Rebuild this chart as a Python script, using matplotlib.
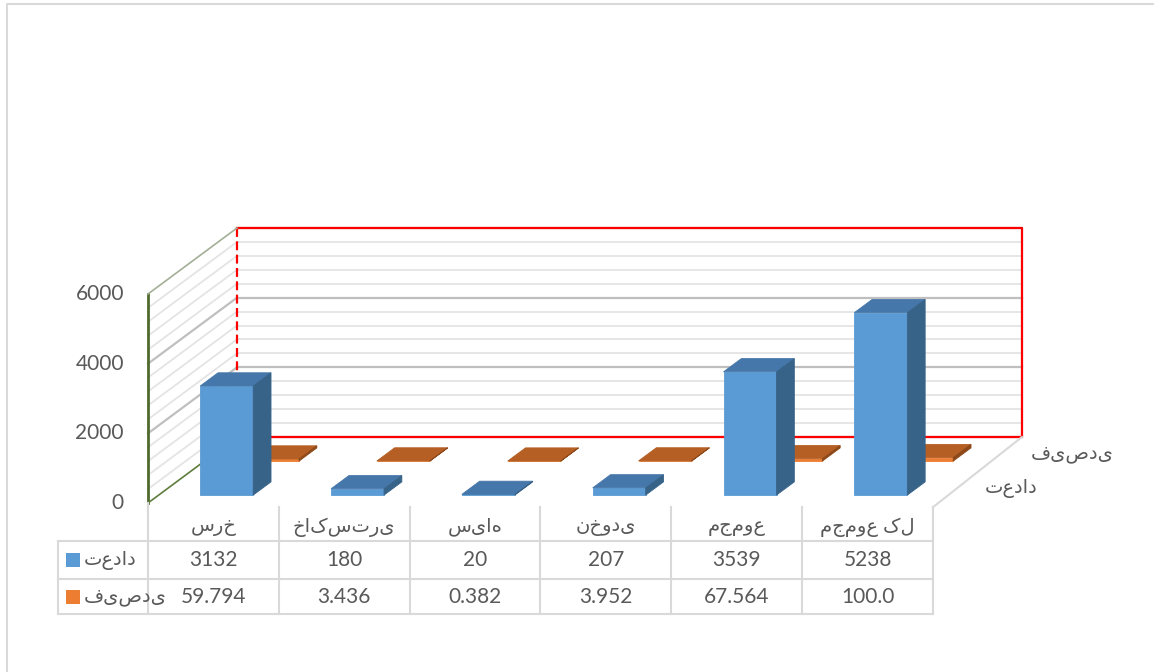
import matplotlib.pyplot as plt
from matplotlib.patches import Polygon, Rectangle

# --- chart data ---
categories = ['سرخ', 'خاکستری', 'سیاه', 'نخودی', 'مجموع', 'مجموع کل']
counts = [3132, 180, 20, 207, 3539, 5238]
percents = [59.794, 3.436, 0.382, 3.952, 67.564, 100.0]
series_names = ['تعداد', 'فیصدی']
y_ticks = [0, 2000, 4000, 6000]

plt.rcParams['font.family'] = ['Lato', 'DejaVu Sans']
TEXT = '#595959'
FS = 15      # numbers
FS_AR = 14   # arabic labels

# pixel layout of the plot box
X0, CAT_W = 148, 130.83          # left edge and width of one category (px)
Y0, PX_PER_UNIT = 503, 209 / 6000  # floor line and px per value unit
DX = 89 / CAT_W                  # depth offset in category units
DY = 66 / PX_PER_UNIT            # depth offset in value units
Y_MAX = 6000


def px(x, y):
    """pixel position (from top-left) -> data coordinates"""
    return (x - X0) / CAT_W, (Y0 - y) / PX_PER_UNIT


def proj(x, v, d):
    """category x, value v, depth d (0 front .. 1 back) -> 2d data coords"""
    return x + d * DX, v + d * DY


fig = plt.figure(figsize=(11.54, 6.72), dpi=100)
ax = fig.add_axes([0, 0, 1, 1])
ax.set_xlim(px(0, 0)[0], px(1154, 0)[0])
ax.set_ylim(px(0, 672)[1], px(0, 0)[1])
ax.axis('off')

n = len(categories)

# gridlines on the back wall and the side wall
for v in range(0, Y_MAX + 1, 400):
    major = v % 2000 == 0
    c = '#BFBFBF' if major else '#E4E4E4'
    lw = 1.6 if major else 1.3
    (xa, ya), (xb, yb) = proj(0, v, 1), proj(n, v, 1)
    ax.plot([xa, xb], [ya, yb], color=c, lw=lw, zorder=1)
    if 0 < v < Y_MAX:
        (xa, ya), (xb, yb) = proj(0, v, 0), proj(0, v, 1)
        ax.plot([xa, xb], [ya, yb], color=c, lw=lw, zorder=1)

# back wall outline in red, left edge dashed
corners = [proj(0, 0, 1), proj(n, 0, 1), proj(n, Y_MAX, 1), proj(0, Y_MAX, 1)]
xs, ys = zip(*corners)
ax.plot(xs, ys, color='#FF0000', lw=1.6, zorder=2)
ax.plot([xs[3], xs[0]], [ys[3], ys[0]], color='#FF0000', lw=1.6,
        ls=(0, (4, 2)), zorder=2)

# side wall outline
(xa, ya), (xb, yb) = proj(0, 0, 0), proj(0, Y_MAX, 0)
ax.plot([xa, xb], [ya, yb], color='#4F6B2C', lw=2, zorder=2)
for v, c in [(0, '#5E7D3D'), (Y_MAX, '#A3AF96')]:
    (xa, ya), (xb, yb) = proj(0, v, 0), proj(0, v, 1)
    ax.plot([xa, xb], [ya, yb], color=c, lw=1.2, zorder=2)

# right edge of the floor
(xa, ya), (xb, yb) = proj(n, 0, 0), proj(n, 0, 1)
ax.plot([xa, xb], [ya - 120, yb], color='#D9D9D9', lw=1.5, zorder=2)


def draw_box(x0, w, v, d0, dd, front, top, side, z):
    faces = [
        ([proj(x0, 0, d0), proj(x0 + w, 0, d0), proj(x0 + w, v, d0), proj(x0, v, d0)], front),
        ([proj(x0, v, d0), proj(x0 + w, v, d0), proj(x0 + w, v, d0 + dd), proj(x0, v, d0 + dd)], top),
        ([proj(x0 + w, 0, d0), proj(x0 + w, 0, d0 + dd), proj(x0 + w, v, d0 + dd), proj(x0 + w, v, d0)], side),
    ]
    for pts, c in faces:
        ax.add_patch(Polygon(pts, closed=True, facecolor=c, edgecolor=c,
                             lw=0.6, zorder=z))


BAR_W = 53 / CAT_W
BAR_D = 0.2
rows = [
    # values, depth start, front / top / side colours
    (counts, 0.12, ('#5B9BD5', '#4677AA', '#386389')),
    (percents, 0.635, ('#ED7D31', '#B55F25', '#8C4818')),
]
# back row first so the front row covers it
for r, (vals, d0, (cf, ct, cs)) in reversed(list(enumerate(rows))):
    for i, v in enumerate(vals):
        x0 = i + 0.5 - BAR_W / 2 + 0.02
        draw_box(x0, BAR_W, v, d0, BAR_D, cf, ct, cs, 3 + (1 - r) * 2 + i * 0.01)

# value axis labels
for t in y_ticks:
    ax.text(px(124, 0)[0], t, str(t), ha='right', va='center',
            fontsize=FS, color=TEXT)

# series labels along the depth axis
for (vals, d0, _), name in zip(rows, series_names):
    x, y = proj(n, 0, d0 + BAR_D / 2)
    ax.text(x + 32 / CAT_W, y, name, ha='left', va='center',
            fontsize=FS_AR, color=TEXT)

# data table under the plot
grid_c = '#D9D9D9'
left_x = px(58, 0)[0]
for yy in [541, 579, 614]:
    y = px(0, yy)[1]
    ax.plot([left_x, n], [y, y], color=grid_c, lw=1.5, zorder=2)
y_top, y_bot = px(0, 507)[1], px(0, 614)[1]
for k in range(n + 1):
    ax.plot([k, k], [y_top if k else 0, y_bot], color=grid_c, lw=1.5, zorder=2)
ax.plot([left_x, left_x], [px(0, 541)[1], y_bot], color=grid_c, lw=1.5, zorder=2)

y_head = px(0, 527)[1]
for i, cat in enumerate(categories):
    ax.text(i + 0.5, y_head, cat, ha='center', va='center', fontsize=FS_AR, color=TEXT)

row_y = [px(0, 560)[1], px(0, 597)[1]]
key_colors = ['#5B9BD5', '#ED7D31']
for y, name, vals, kc in zip(row_y, series_names, [counts, percents], key_colors):
    for i, v in enumerate(vals):
        ax.text(i + 0.5, y, str(v), ha='center', va='center', fontsize=FS, color=TEXT)
    kx, ky = px(66, 0)[0], y - 7 / PX_PER_UNIT
    ax.add_patch(Rectangle((kx, ky), 14 / CAT_W, 14 / PX_PER_UNIT,
                           facecolor=kc, edgecolor='none', zorder=3))
    ax.text(px(84, 0)[0], y, name, ha='left', va='center', fontsize=FS_AR, color=TEXT)

# chart area border
bx, by = px(7, 0)[0], px(0, 4)[1]
ax.plot([bx, bx, px(1160, 0)[0]], [px(0, 680)[1], by, by], color='#D9D9D9', lw=1.5)

fig.savefig('out.png', dpi=100)
